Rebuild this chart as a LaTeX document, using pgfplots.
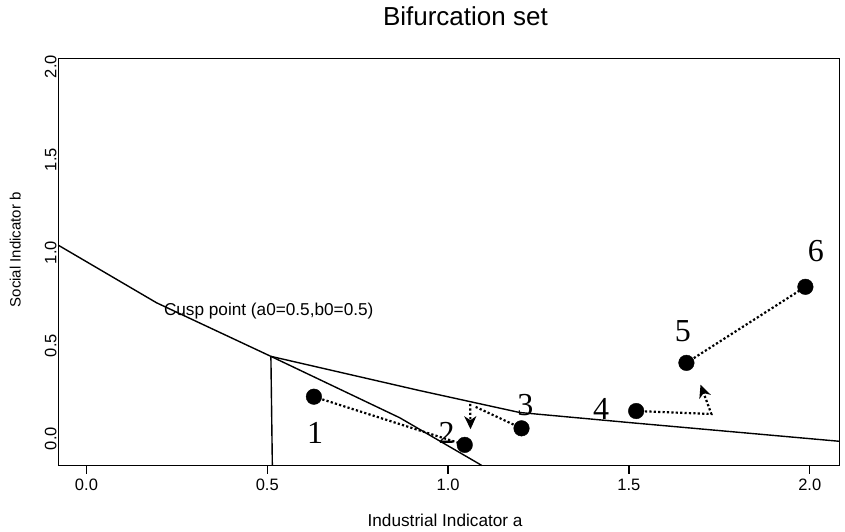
\documentclass[border=0pt]{standalone}
\usepackage{fontspec}
\setmainfont{Liberation Sans}
\newfontfamily\serifnum{Liberation Serif}
\usepackage{pgfplots}
\pgfplotsset{compat=1.18}
\usetikzlibrary{arrows.meta}
\begin{document}
\begin{tikzpicture}
\begin{axis}[name=ax, scale only axis, width=781.5pt, height=407pt,
  xmin=-0.078, xmax=2.083, ymin=-0.145, ymax=2.044,
  axis line style={line width=1.4pt},
  xtick={0,0.5,1,1.5,2}, ytick={0,0.5,1,1.5,2},
  xticklabels={0.0,0.5,1.0,1.5,2.0}, yticklabels={0.0,0.5,1.0,1.5,2.0},
  xtick pos=bottom, ytick pos=left, tick align=outside,
  x tick style={line width=1.4pt, black}, major tick length=8pt,
  y tick style={draw=none},
  tick label style={font=\fontsize{16.5}{18}\selectfont},
  /pgf/number format/assume math mode=true,
  xticklabel style={anchor=base, yshift=-17pt},
  yticklabel style={xshift=8pt, rotate=90, anchor=south, inner sep=1.5pt},
  clip=false,
]
% bifurcation set lines
\addplot[black, line width=1.4pt] coordinates {(-0.078,1.040) (0.194,0.730) (0.51,0.442) (0.866,0.112) (1.082,-0.132) (1.093,-0.145)};
\addplot[black, line width=1.4pt] coordinates {(0.51,0.442) (0.919,0.259) (1.198,0.140) (1.512,0.084) (2.083,-0.015)};
\addplot[black, line width=1.4pt] coordinates {(0.51,0.442) (0.514,-0.145)};
% dotted trajectories
\addplot[black, line width=2.2pt, dash pattern=on 2.2pt off 2.2pt] coordinates {(0.629,0.225) (1.046,-0.034)};
\addplot[black, line width=2.2pt, dash pattern=on 2.2pt off 2.2pt] coordinates {(1.203,0.055) (1.072,0.174)};
\addplot[black, line width=2.2pt, dash pattern=on 2.2pt off 2.2pt, -{Stealth[length=13pt,width=12pt,inset=4pt]}] coordinates {(1.061,0.186) (1.062,0.050)};
\addplot[black, line width=2.2pt, dash pattern=on 2.2pt off 2.2pt, -{Stealth[length=13pt,width=12pt,inset=4pt]}] coordinates {(1.520,0.148) (1.728,0.132) (1.698,0.290)};
\addplot[black, line width=2.2pt, dash pattern=on 2.2pt off 2.2pt] coordinates {(1.659,0.407) (1.988,0.816)};
% states
\addplot[only marks, mark=*, mark size=7.8pt, black] coordinates {(0.629,0.225) (1.046,-0.034) (1.203,0.055) (1.520,0.148) (1.659,0.407) (1.988,0.816)};
% labels
\node[font=\serifnum\fontsize{32}{32}\selectfont, inner sep=0] at (0.632,0.028) {1};
\node[font=\serifnum\fontsize{32}{32}\selectfont, inner sep=0] at (0.996,0.030) {2};
\node[font=\serifnum\fontsize{32}{32}\selectfont, inner sep=0] at (1.214,0.178) {3};
\node[font=\serifnum\fontsize{32}{32}\selectfont, inner sep=0] at (1.423,0.161) {4};
\node[font=\serifnum\fontsize{32}{32}\selectfont, inner sep=0] at (1.649,0.577) {5};
\node[font=\serifnum\fontsize{32}{32}\selectfont, inner sep=0] at (2.017,1.007) {6};
\node[anchor=base, font=\fontsize{17.2}{19}\selectfont, inner sep=0] at (0.504,0.661) {Cusp point (a0=0.5,b0=0.5)};
\node[anchor=base, font=\fontsize{26}{28}\selectfont, inner sep=0] at ([yshift=33.4pt]rel axis cs:0.521,1) {Bifurcation set};
\node[anchor=base, font=\fontsize{17.2}{19}\selectfont, inner sep=0] at ([yshift=-61.5pt]rel axis cs:0.495,0) {Industrial Indicator a};
\node[anchor=base, rotate=90, font=\fontsize{15}{17}\selectfont, inner sep=0] at ([xshift=-37.5pt]rel axis cs:0,0.53) {Social Indicator b};
\end{axis}
\path ([shift={(-58.25pt,-66.5pt)}]ax.south west) rectangle ([shift={(5.25pt,58.5pt)}]ax.north east);
\end{tikzpicture}
\end{document}
